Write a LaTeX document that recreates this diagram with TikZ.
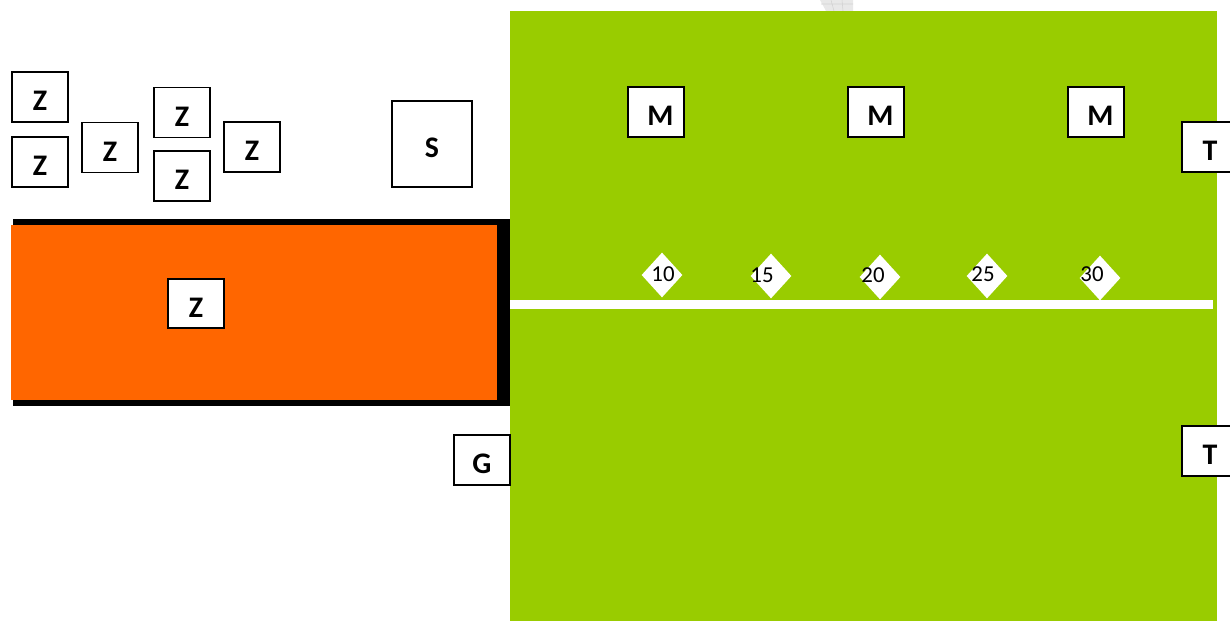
\documentclass[tikz,border=0pt]{standalone}
\usepackage{fontspec}
\setmainfont{Carlito}
\usetikzlibrary{shapes.geometric}
\definecolor{pitchgreen}{HTML}{99CC00}
\definecolor{zoneorange}{HTML}{FF6600}
\begin{document}
\begin{tikzpicture}[x=0.02cm,y=-0.02cm,
	player/.style={draw=black,line width=0.9pt,fill=white,minimum width=11.2mm,minimum height=10mm,inner sep=0pt,font=\fontsize{17}{20}\selectfont\bfseries,text height=15.5pt,text depth=0pt},
	cone/.style={diamond,fill=white,minimum width=8.2mm,minimum height=9mm,inner sep=0pt},
	dist/.style={font=\fontsize{13}{15}\selectfont,inner sep=0pt}]
\useasboundingbox (0,0) rectangle (1230,621);
\fill[gray!18] (820,0) -- (853,0) -- (853,11) -- (826,11) -- cycle;
\draw[gray!35,line width=0.3pt] (831,0) -- (834,11) (842,0) -- (843,11) (821,4) -- (853,4);
\fill[pitchgreen] (510,11) rectangle (1217,621);
\fill[white] (510,300) rectangle (1213,309);
\fill[black] (13,219) rectangle (510,406);
\fill[zoneorange] (11,225) rectangle (497,400);
\node[player] (z1) at (40,97) {Z};
\node[player] (z2) at (40,162) {Z};
\node[player] (z3) at (110,147.5) {Z};
\node[player] (z4) at (182,112.5) {Z};
\node[player] (z5) at (182,176) {Z};
\node[player] (z6) at (252,147) {Z};
\node[player,minimum width=16mm,minimum height=17.2mm] (s) at (432,144) {S};
\node[player,minimum height=9.8mm] (z7) at (196,303.5) {Z};
\node[player] (g) at (482,460) {G};
\node[player] (m1) at (656,112) {\kern5pt M};
\node[player] (m2) at (876,112) {\kern5pt M};
\node[player] (m3) at (1096,112) {\kern5pt M};
\node[player] (t1) at (1210,147) {T};
\node[player] (t2) at (1210,451) {T};
\node[cone] (c10) at (662,275) {};
\node[cone] (c15) at (771,276) {};
\node[cone] (c20) at (880,277) {};
\node[cone] (c25) at (987,276) {};
\node[cone] (c30) at (1100,278) {};
\node[dist] (n10) at (663,274) {10};
\node[dist] (n15) at (762,275) {15};
\node[dist] (n20) at (873,275) {20};
\node[dist] (n25) at (983,274) {25};
\node[dist] (n30) at (1092,274) {30};
\end{tikzpicture}
\end{document}
